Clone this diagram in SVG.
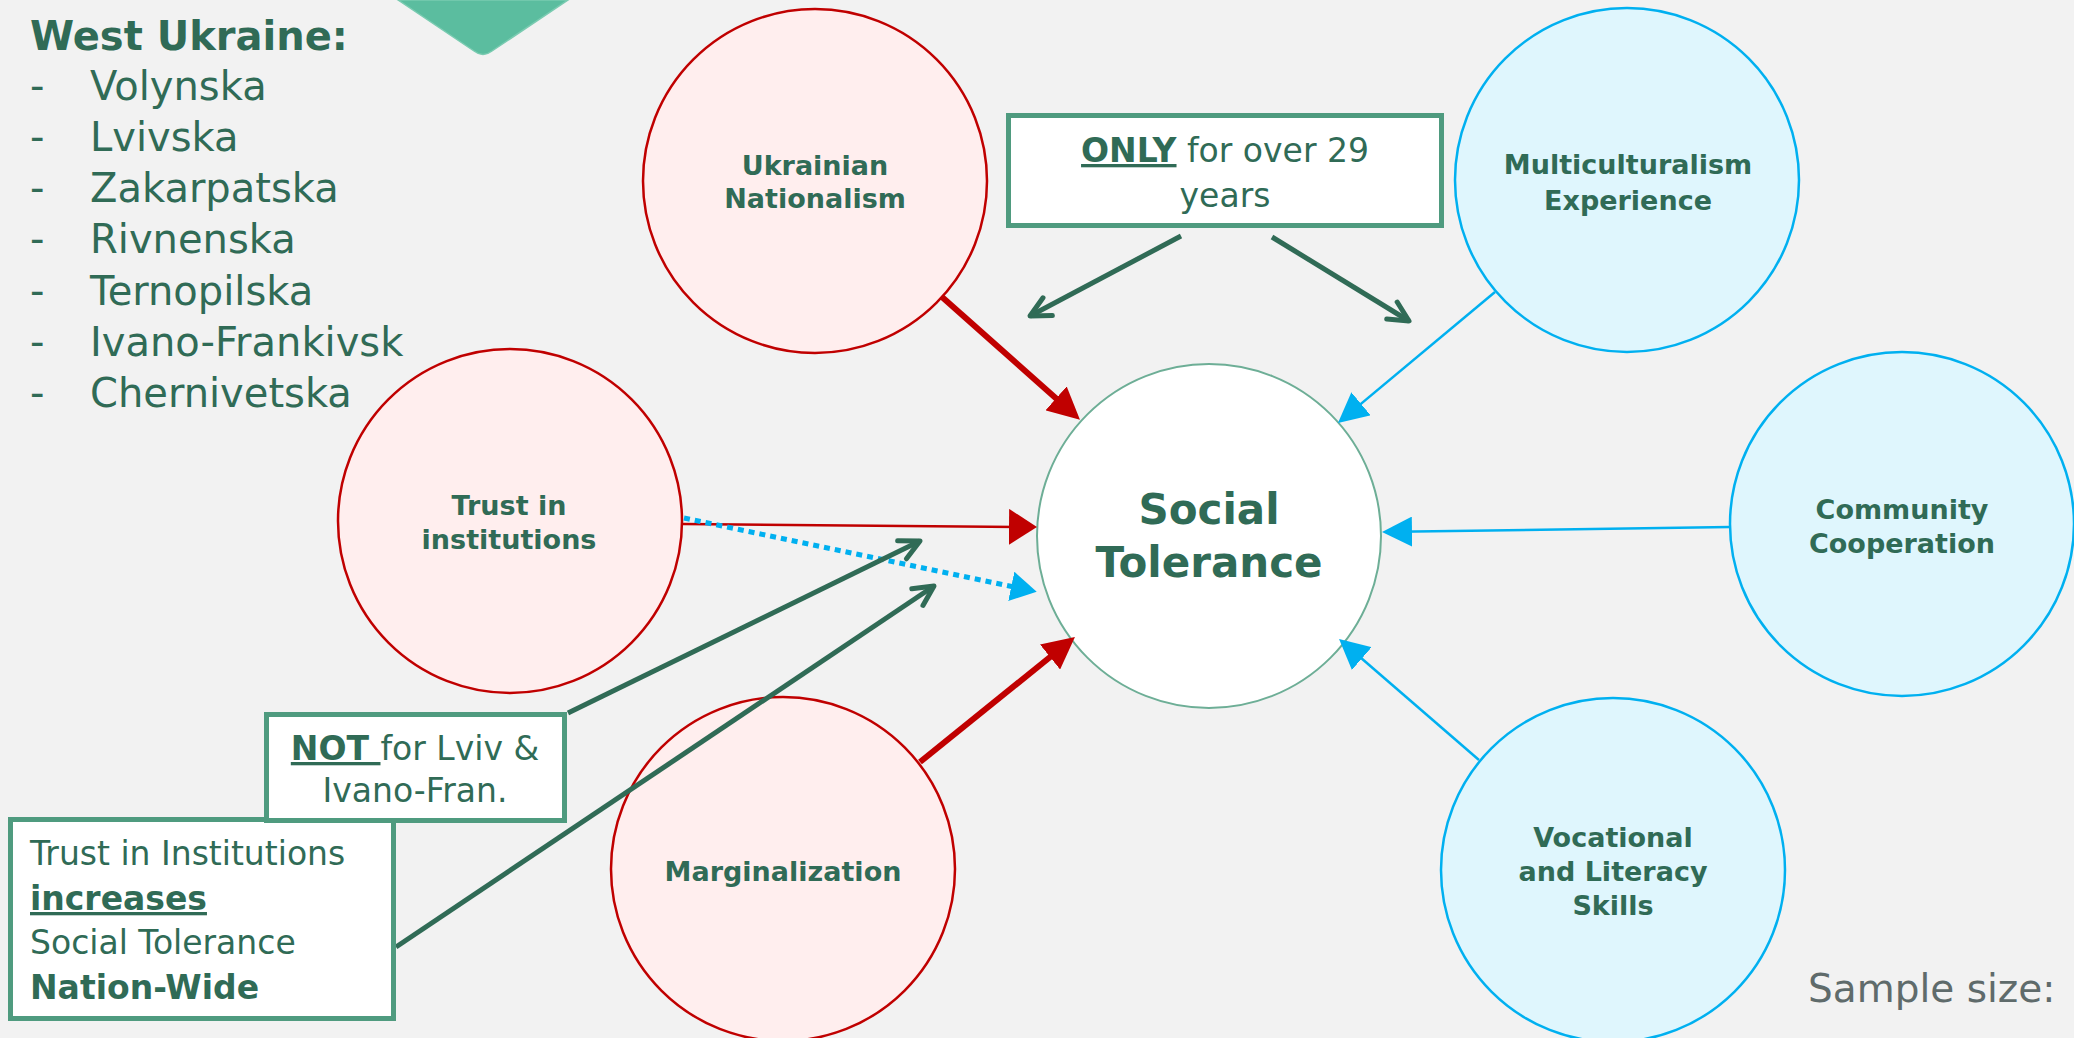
<svg xmlns="http://www.w3.org/2000/svg" width="2074" height="1038" viewBox="0 0 2074 1038">
<style>
  text { font-family: "DejaVu Sans", "Liberation Sans", sans-serif; fill: #306B56; }
  .list { font-size: 40px; }
  .head { font-size: 40px; font-weight: bold; }
  .lbl { font-size: 27px; font-weight: bold; text-anchor: middle; }
  .big { font-size: 42px; font-weight: bold; text-anchor: middle; }
  .note { font-size: 33px; }
  .b { font-weight: bold; }
  .u { text-decoration: underline; }
  .red { fill: #FFEEEE; stroke: #C00000; stroke-width: 2.5; }
  .blue { fill: #DFF6FD; stroke: #00B0F0; stroke-width: 2.5; }
  .core { fill: #FFFFFF; stroke: #6DAE96; stroke-width: 2; }
  .box { fill: #FFFFFF; stroke: #4F9B7F; stroke-width: 5; }
  .cr { stroke: #C00000; fill: none; }
  .cb { stroke: #00B0F0; fill: none; }
  .cg { stroke: #306B56; fill: none; stroke-width: 5; }
</style>
<defs>
  <marker id="hRedBig" markerUnits="userSpaceOnUse" viewBox="0 0 32 32" markerWidth="32" markerHeight="32" refX="16" refY="16" orient="auto">
    <path d="M0,0 L32,16 L0,32 Z" fill="#C00000"/>
  </marker>
  <marker id="hRedThin" markerUnits="userSpaceOnUse" viewBox="0 0 28 36" markerWidth="28" markerHeight="36" refX="14" refY="18" orient="auto">
    <path d="M0,0 L28,18 L0,36 Z" fill="#C00000"/>
  </marker>
  <marker id="hBlue" markerUnits="userSpaceOnUse" viewBox="0 0 30 30" markerWidth="30" markerHeight="30" refX="15" refY="15" orient="auto">
    <path d="M0,0 L30,15 L0,30 Z" fill="#00B0F0"/>
  </marker>
  <marker id="hBlueDot" markerUnits="userSpaceOnUse" viewBox="0 0 26 30" markerWidth="26" markerHeight="30" refX="13" refY="15" orient="auto">
    <path d="M0,0 L26,15 L0,30 Z" fill="#00B0F0"/>
  </marker>
  <marker id="hGreen" markerUnits="userSpaceOnUse" viewBox="0 0 24 24" markerWidth="24" markerHeight="24" refX="22" refY="12" orient="auto" overflow="visible">
    <path d="M2,2 L22,12 L2,22" fill="none" stroke="#306B56" stroke-width="5" stroke-linecap="round" stroke-linejoin="round"/>
  </marker>
</defs>

<rect x="0" y="0" width="2074" height="1038" fill="#F2F2F2"/>

<g id="corner-shape">
  <path d="M398,0 L474,51 Q483,58 492,51 L568,0 Z" fill="#5BBD9F" stroke="#7ACBB1" stroke-width="1.5"/>
</g>

<g id="region-list">
  <text class="head" x="30" y="50">West Ukraine:</text>
  <text class="list" x="30" y="100">-</text><text class="list" x="90" y="100">Volynska</text>
  <text class="list" x="30" y="151">-</text><text class="list" x="90" y="151">Lvivska</text>
  <text class="list" x="30" y="202">-</text><text class="list" x="90" y="202">Zakarpatska</text>
  <text class="list" x="30" y="253">-</text><text class="list" x="90" y="253">Rivnenska</text>
  <text class="list" x="30" y="305">-</text><text class="list" x="90" y="305">Ternopilska</text>
  <text class="list" x="30" y="356">-</text><text class="list" x="90" y="356">Ivano-Frankivsk</text>
  <text class="list" x="30" y="407">-</text><text class="list" x="90" y="407">Chernivetska</text>
</g>

<g id="node-ukrainian-nationalism">
  <circle class="red" cx="815" cy="181" r="172"/>
  <text class="lbl" x="815" y="175">Ukrainian</text>
  <text class="lbl" x="815" y="208">Nationalism</text>
</g>
<g id="node-multiculturalism">
  <circle class="blue" cx="1627" cy="180" r="172"/>
  <text class="lbl" x="1628" y="174">Multiculturalism</text>
  <text class="lbl" x="1628" y="210">Experience</text>
</g>
<g id="node-community">
  <circle class="blue" cx="1902" cy="524" r="172"/>
  <text class="lbl" x="1902" y="519">Community</text>
  <text class="lbl" x="1902" y="553">Cooperation</text>
</g>
<g id="node-vocational">
  <circle class="blue" cx="1613" cy="870" r="172"/>
  <text class="lbl" x="1613" y="847">Vocational</text>
  <text class="lbl" x="1613" y="881">and Literacy</text>
  <text class="lbl" x="1613" y="915">Skills</text>
</g>
<g id="node-trust">
  <circle class="red" cx="510" cy="521" r="172"/>
  <text class="lbl" x="509" y="515">Trust in</text>
  <text class="lbl" x="509" y="549">institutions</text>
</g>
<g id="node-marginalization">
  <circle class="red" cx="783" cy="869" r="172"/>
  <text class="lbl" x="783" y="881">Marginalization</text>
</g>
<g id="node-social-tolerance">
  <circle class="core" cx="1209" cy="536" r="172"/>
  <text class="big" x="1209" y="524">Social</text>
  <text class="big" x="1209" y="577">Tolerance</text>
</g>

<g id="connectors">
  <line class="cr" stroke-width="6" x1="942" y1="297" x2="1068" y2="409" marker-end="url(#hRedBig)"/>
  <line class="cr" stroke-width="6" x1="920" y1="762" x2="1062.5" y2="647" marker-end="url(#hRedBig)"/>
  <line class="cr" stroke-width="2.5" x1="683" y1="524" x2="1023" y2="527" marker-end="url(#hRedThin)"/>
  <line class="cb" stroke-width="5" stroke-dasharray="6 5" x1="684" y1="518" x2="1024" y2="589" marker-end="url(#hBlueDot)"/>
  <line class="cb" stroke-width="2.5" x1="1495" y1="292" x2="1349.5" y2="413.4" marker-end="url(#hBlue)"/>
  <line class="cb" stroke-width="2.5" x1="1730" y1="527" x2="1397" y2="531.8" marker-end="url(#hBlue)"/>
  <line class="cb" stroke-width="2.5" x1="1479" y1="760" x2="1350.4" y2="648.8" marker-end="url(#hBlue)"/>
  <line class="cg" x1="1181" y1="236" x2="1030" y2="316" marker-end="url(#hGreen)"/>
  <line class="cg" x1="1272" y1="237" x2="1409" y2="321" marker-end="url(#hGreen)"/>
  <line class="cg" x1="568" y1="713" x2="920" y2="541" marker-end="url(#hGreen)"/>
  <line class="cg" x1="396" y1="947" x2="934" y2="586" marker-end="url(#hGreen)"/>
</g>

<g id="note-age">
  <rect class="box" x="1008.5" y="115.5" width="433" height="110"/>
  <text class="note" x="1225" y="162" text-anchor="middle"><tspan class="b u">ONLY</tspan> for over 29</text>
  <text class="note" x="1225" y="207" text-anchor="middle">years</text>
</g>
<g id="note-nationwide">
  <rect class="box" x="10.5" y="819.5" width="383" height="199"/>
  <text class="note" x="30" y="865">Trust in Institutions</text>
  <text class="note" x="30" y="910"><tspan class="b u">increases</tspan></text>
  <text class="note" x="30" y="954">Social Tolerance</text>
  <text class="note b" x="30" y="999">Nation-Wide</text>
</g>
<g id="note-region">
  <rect class="box" x="266.5" y="714.5" width="298" height="106"/>
  <text class="note" x="415" y="760" text-anchor="middle"><tspan class="b u">NOT </tspan>for Lviv &amp;</text>
  <text class="note" x="415" y="802" text-anchor="middle">Ivano-Fran.</text>
</g>

<text x="1808" y="1002" font-size="39" style="fill:#5F6B6B">Sample size:</text>
</svg>
